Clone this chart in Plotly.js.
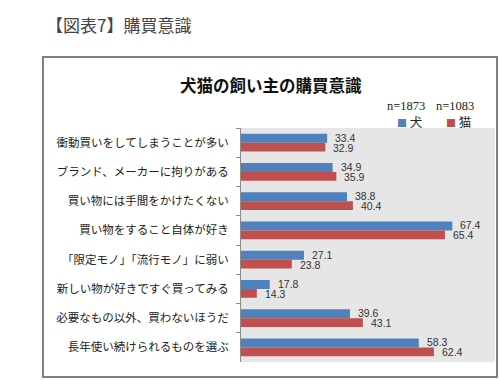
<!DOCTYPE html>
<html>
<head>
<meta charset="utf-8">
<script src="https://cdn.plot.ly/plotly-3.0.1.min.js"></script>
<style>
  html, body { margin: 0; padding: 0; background: #ffffff; }
  #chart { width: 500px; height: 380px; }
</style>
</head>
<body>
<div id="chart"></div>
<script>
// ---- data ----
const categories = [
  '衝動買いをしてしまうことが多い',
  'ブランド、メーカーに拘りがある',
  '買い物には手間をかけたくない',
  '買い物をすること自体が好き',
  '「限定モノ」「流行モノ」に弱い',
  '新しい物が好きですぐ買ってみる',
  '必要なもの以外、買わないほうだ',
  '長年使い続けられるものを選ぶ'
];
const dogValues = [33.4, 34.9, 38.8, 67.4, 27.1, 17.8, 39.6, 58.3];
const catValues = [32.9, 35.9, 40.4, 65.4, 23.8, 14.3, 43.1, 62.4];
const seriesNames = ['犬', '猫'];
const sampleSizes = ['n=1873', 'n=1083'];
const pageTitle = '【図表7】購買意識';
const chartTitle = '犬猫の飼い主の購買意識';

// ---- styles ----
const colors = ['#4f81bd', '#c0504d'];
const jp = '"Noto Sans CJK JP", "Noto Sans", sans-serif';
const num = '"Liberation Sans", Arial, sans-serif';
const serif = '"Liberation Serif", "Times New Roman", serif';

// plot area in pixels
const W = 500, H = 380;
const L = 241, R = 495, T = 128, B = 362;
const px = v => (v - L) / (R - L);
const py = v => 1 - (v - T) / (B - T);

const traces = [
  { type: 'bar', orientation: 'h', name: seriesNames[0], y: categories, x: dogValues,
    marker: { color: colors[0] }, hoverinfo: 'x+name' },
  { type: 'bar', orientation: 'h', name: seriesNames[1], y: categories, x: catValues,
    marker: { color: colors[1] }, hoverinfo: 'x+name' }
];

const annotations = [];
categories.forEach((c, i) => {
  annotations.push({ x: dogValues[i], y: c, xref: 'x', yref: 'y', text: dogValues[i].toFixed(1),
    showarrow: false, xanchor: 'left', yanchor: 'middle', xshift: 7, yshift: 5, borderpad: 0,
    font: { family: num, size: 10.5, color: '#333' } });
  annotations.push({ x: catValues[i], y: c, xref: 'x', yref: 'y', text: catValues[i].toFixed(1),
    showarrow: false, xanchor: 'left', yanchor: 'middle', xshift: 7, yshift: -5, borderpad: 0,
    font: { family: num, size: 10.5, color: '#333' } });
});

// page title
annotations.push({ xref: 'paper', yref: 'paper', x: px(44), y: py(24), xanchor: 'left', yanchor: 'middle',
  text: pageTitle, showarrow: false, font: { family: jp, size: 17, color: '#444' } });
// chart title
annotations.push({ xref: 'paper', yref: 'paper', x: px(271), y: py(85), xanchor: 'center', yanchor: 'middle',
  text: '<b>' + chartTitle + '</b>', showarrow: false, font: { family: jp, size: 16.5, color: '#111' } });
// legend: sample sizes + swatches
const legendX = [406, 455];
seriesNames.forEach((n, i) => {
  annotations.push({ xref: 'paper', yref: 'paper', x: px(legendX[i]), y: py(106), xanchor: 'center', yanchor: 'middle',
    text: sampleSizes[i], showarrow: false, font: { family: serif, size: 12.5, color: '#222' } });
  annotations.push({ xref: 'paper', yref: 'paper', x: px(legendX[i] - 11), y: py(121), xanchor: 'left', yanchor: 'middle',
    text: '<span style="color:' + colors[i] + ';font-size:10px">■</span> ' + n, showarrow: false,
    font: { family: jp, size: 12.5, color: '#222' } });
});

const layout = {
  width: W, height: H,
  margin: { l: L, r: W - R, t: T, b: H - B, pad: 0 },
  paper_bgcolor: '#ffffff',
  plot_bgcolor: '#e6e6e6',
  barmode: 'group',
  bargap: 0.4,
  bargroupgap: 0,
  showlegend: false,
  xaxis: { range: [10, 79], visible: false, showgrid: false, zeroline: false, fixedrange: true },
  yaxis: {
    type: 'category', autorange: 'reversed',
    showline: true, linecolor: '#8c8c8c', linewidth: 1,
    ticks: 'outside', tickson: 'boundaries', ticklen: 4, tickcolor: '#8c8c8c',
    ticklabelstandoff: 9,
    tickfont: { family: jp, size: 11.5, color: '#222' },
    showgrid: false, zeroline: false, fixedrange: true
  },
  shapes: [
    { type: 'rect', xref: 'paper', yref: 'paper', x0: px(43), x1: px(497), y0: py(57), y1: py(377),
      line: { color: '#808080', width: 2 }, fillcolor: 'rgba(0,0,0,0)', layer: 'above' }
  ],
  annotations: annotations
};

Plotly.newPlot('chart', traces, layout, { displayModeBar: false, staticPlot: true });
</script>
</body>
</html>
